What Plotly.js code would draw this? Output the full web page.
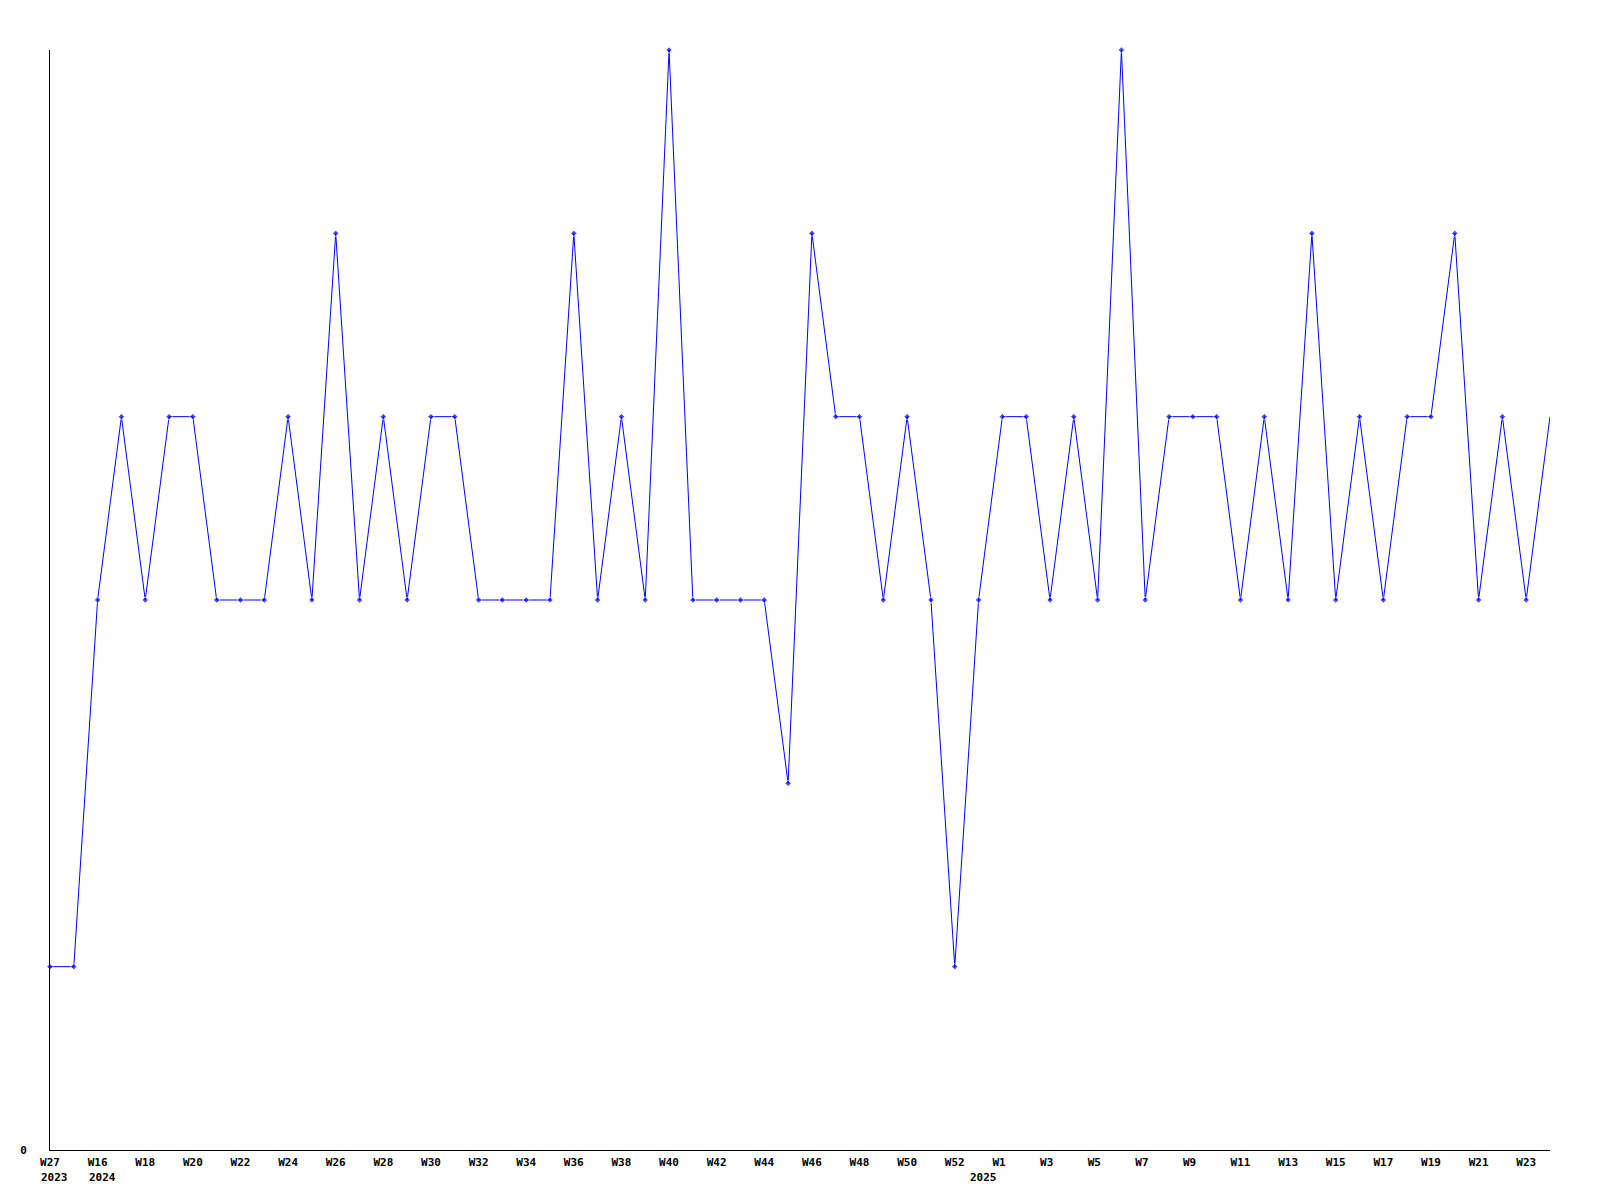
<!DOCTYPE html>
<html>
<head>
<meta charset="utf-8">
<script src="https://cdn.plot.ly/plotly-3.0.1.min.js"></script>
<style>html,body{margin:0;padding:0;background:#fff;}#chart{width:1600px;height:1200px;}</style>
</head>
<body>
<div id="chart"></div>
<script>
// Weeks (year, week) in order
const years = [2023,
  2024,2024,2024,2024,2024,2024,2024,2024,2024,2024,2024,2024,2024,2024,2024,2024,2024,2024,2024,2024,
  2024,2024,2024,2024,2024,2024,2024,2024,2024,2024,2024,2024,2024,2024,2024,2024,2024,2024,2024,
  2025,2025,2025,2025,2025,2025,2025,2025,2025,2025,2025,2025,2025,2025,2025,2025,2025,2025,2025,2025,2025,2025,2025,2025];
const weeks = [27,
  15,16,17,18,19,20,21,22,23,24,25,26,27,28,29,30,31,32,33,34,
  35,36,37,38,39,40,41,42,43,44,45,46,47,48,49,50,51,52,53,
  1,2,3,4,5,6,7,8,9,10,11,12,13,14,15,16,17,18,19,20,21,22,23,24];
const values = [1,
  1,3,4,3,4,4,3,3,3,4,3,5,3,4,3,4,4,3,3,3,
  3,5,3,4,3,6,3,3,3,3,2,5,4,4,3,4,3,1,3,
  4,4,3,4,3,6,3,4,4,4,3,4,3,5,3,4,3,4,4,5,3,4,3,4];
// Labelled ticks (every second week) and year markers
const tickWeeks = ["2023-W27","2024-W16","2024-W18","2024-W20","2024-W22","2024-W24","2024-W26","2024-W28","2024-W30","2024-W32","2024-W34",
  "2024-W36","2024-W38","2024-W40","2024-W42","2024-W44","2024-W46","2024-W48","2024-W50","2024-W52",
  "2025-W1","2025-W3","2025-W5","2025-W7","2025-W9","2025-W11","2025-W13","2025-W15","2025-W17","2025-W19","2025-W21","2025-W23"];
const yearLabels = ["2023","2024","2025"];
const yearAt = ["2023-W27","2024-W16","2024-W53"];

const cats = years.map((y,i)=> y + "-W" + weeks[i]);
const tickText = tickWeeks.map(s => { const w = s.split("-")[1]; return w.length < 3 ? w + "\u00a0" : w; });
const sizes = values.map((v,i)=> i === values.length-1 ? 0 : 5);

const font = {family: "DejaVu Sans Mono, monospace", size: 11, color: "#000", weight: "bold"};

const trace = {
  x: cats, y: values, type: "scatter", mode: "lines+markers",
  line: {color: "#0000ff", width: 1},
  marker: {color: "#0000ff", size: sizes, symbol: "diamond"},
  cliponaxis: false, hoverinfo: "skip"
};

const annotations = yearLabels.map((t,i)=>({
  text: t, x: yearAt[i], xref: "x", y: 0, yref: "paper",
  xanchor: "left", yanchor: "top", xshift: -11, yshift: -19,
  showarrow: false, font: font
}));

const layout = {
  width: 1600, height: 1200,
  margin: {l: 50, r: 50, t: 50, b: 50},
  paper_bgcolor: "#fff", plot_bgcolor: "#fff",
  showlegend: false,
  xaxis: {
    type: "category", categoryorder: "array", categoryarray: cats,
    range: [0, cats.length-1], autorange: false,
    showgrid: false, zeroline: false, showline: true, linecolor: "#000", linewidth: 1,
    tickmode: "array", tickvals: tickWeeks, ticktext: tickText,
    ticks: "", ticklabelstandoff: 2, tickangle: 0, tickfont: font
  },
  yaxis: {
    range: [0, 6], autorange: false,
    showgrid: false, zeroline: false, showline: true, linecolor: "#000", linewidth: 1,
    tickmode: "array", tickvals: [0], ticktext: ["0"],
    ticks: "", ticklabelstandoff: 20, tickfont: font
  },
  annotations: annotations
};

Plotly.newPlot("chart", [trace], layout, {displayModeBar: false, staticPlot: true});
</script>
</body>
</html>
